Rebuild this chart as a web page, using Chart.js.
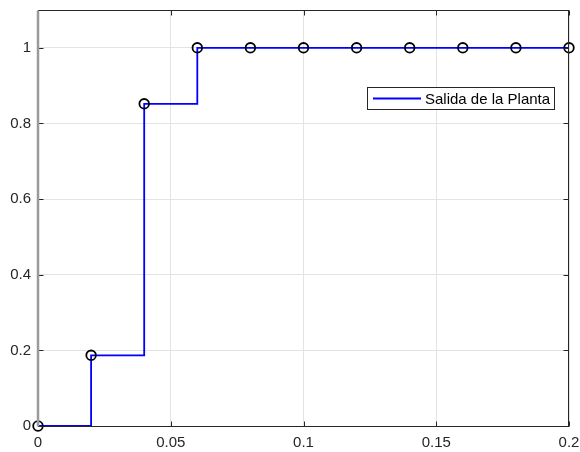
<!DOCTYPE html>
<html>
<head>
<meta charset="utf-8">
<script src="https://cdn.jsdelivr.net/npm/chart.js@4/dist/chart.umd.min.js"></script>
<style>
  html, body { margin: 0; padding: 0; background: #fff; overflow: hidden; }
  #wrap { width: 580px; height: 452px; }
</style>
</head>
<body>
<div id="wrap"><canvas id="chart" width="580" height="452"></canvas></div>
<script>
(() => {
    // datos
    const tiempo = [0, 0.02, 0.04, 0.06, 0.08, 0.10, 0.12, 0.14, 0.16, 0.18, 0.20];
    const salida = [0, 0.187, 0.852, 1, 1, 1, 1, 1, 1, 1, 1];
    const xTicks = [0, 0.05, 0.1, 0.15, 0.2];
    const yTicks = [0, 0.2, 0.4, 0.6, 0.8, 1];
    const etiqueta = 'Salida de la Planta';

    const puntos = tiempo.map((t, i) => ({ x: t, y: salida[i] }));
    const familia = '"Liberation Sans", Arial, sans-serif';

    // marco, ticks hacia adentro y leyenda estilo MATLAB
    const marcoMatlab = {
        id: 'marcoMatlab',
        afterDraw(chart) {
            const { ctx, chartArea: a, scales } = chart;
            ctx.save();
            const t = Math.round(a.top) + 0.5, b = Math.round(a.bottom) + 0.5;
            const r = Math.round(a.right) - 0.5, l = Math.round(a.left) + 0.5;
            ctx.strokeStyle = '#262626';
            ctx.lineWidth = 1;
            const tl = 5;
            ctx.beginPath();
            xTicks.forEach(v => {
                const px = Math.round(scales.x.getPixelForValue(v)) + 0.5;
                ctx.moveTo(px, b); ctx.lineTo(px, b - tl);
                ctx.moveTo(px, t); ctx.lineTo(px, t + tl);
            });
            yTicks.forEach(v => {
                const py = Math.round(scales.y.getPixelForValue(v)) + 0.5;
                ctx.moveTo(l, py); ctx.lineTo(l + tl, py);
                ctx.moveTo(r, py); ctx.lineTo(r - tl, py);
            });
            ctx.stroke();
            ctx.strokeRect(l, t, r - l, b - t);
            ctx.strokeStyle = '#9a9a9a';
            ctx.lineWidth = 2.5;
            ctx.beginPath();
            ctx.moveTo(a.left, t); ctx.lineTo(a.left, b);
            ctx.stroke();

            // leyenda
            const lx = 367.5, ly = 87.5, lw = 187, lh = 22;
            ctx.fillStyle = '#fff';
            ctx.fillRect(lx, ly, lw, lh);
            ctx.strokeStyle = '#262626';
            ctx.lineWidth = 1;
            ctx.strokeRect(lx, ly, lw, lh);
            ctx.strokeStyle = '#0000ff';
            ctx.lineWidth = 1.8;
            ctx.beginPath();
            ctx.moveTo(373, ly + lh / 2); ctx.lineTo(421, ly + lh / 2);
            ctx.stroke();
            ctx.fillStyle = '#000';
            ctx.font = '15px ' + familia;
            ctx.textAlign = 'left';
            ctx.textBaseline = 'middle';
            ctx.fillText(etiqueta, 425, ly + lh / 2 + 1);
            ctx.restore();
        }
    };

    new Chart(document.getElementById('chart'), {
        type: 'line',
        data: {
            datasets: [
                {
                    label: 'marcadores',
                    data: puntos,
                    showLine: false,
                    clip: false,
                    pointStyle: 'circle',
                    pointRadius: 4.8,
                    pointBorderWidth: 1.8,
                    pointBorderColor: '#000',
                    pointBackgroundColor: 'rgba(0,0,0,0)',
                    order: 0
                },
                {
                    label: etiqueta,
                    data: puntos,
                    stepped: 'before',
                    borderColor: '#0000ff',
                    borderWidth: 1.8,
                    pointRadius: 0,
                    fill: false,
                    order: 1
                }
            ]
        },
        options: {
            responsive: false,
            animation: false,
            layout: { padding: { top: 10, right: 11, left: 0, bottom: 0 } },
            plugins: { legend: { display: false }, tooltip: { enabled: false } },
            scales: {
                x: {
                    type: 'linear',
                    min: 0,
                    max: 0.2,
                    afterBuildTicks: s => { s.ticks = xTicks.map(v => ({ value: v })); },
                    afterFit: s => { s.height = 26; s.paddingLeft = 0; s.paddingRight = 0; },
                    grid: { color: '#e3e3e3', drawTicks: false, lineWidth: 1 },
                    border: { display: false },
                    ticks: {
                        color: '#262626',
                        font: { family: familia, size: 15 },
                        padding: 8,
                        maxRotation: 0,
                        callback: v => String(v)
                    }
                },
                y: {
                    min: 0,
                    max: 1.1,
                    afterBuildTicks: s => { s.ticks = yTicks.map(v => ({ value: v })); },
                    afterFit: s => { s.width = 38; s.paddingTop = 0; s.paddingBottom = 0; },
                    grid: { color: '#e3e3e3', drawTicks: false, lineWidth: 1 },
                    border: { display: false },
                    ticks: {
                        color: '#262626',
                        font: { family: familia, size: 15 },
                        padding: 7,
                        callback: v => String(v)
                    }
                }
            }
        },
        plugins: [marcoMatlab]
    });
})();
</script>
</body>
</html>
